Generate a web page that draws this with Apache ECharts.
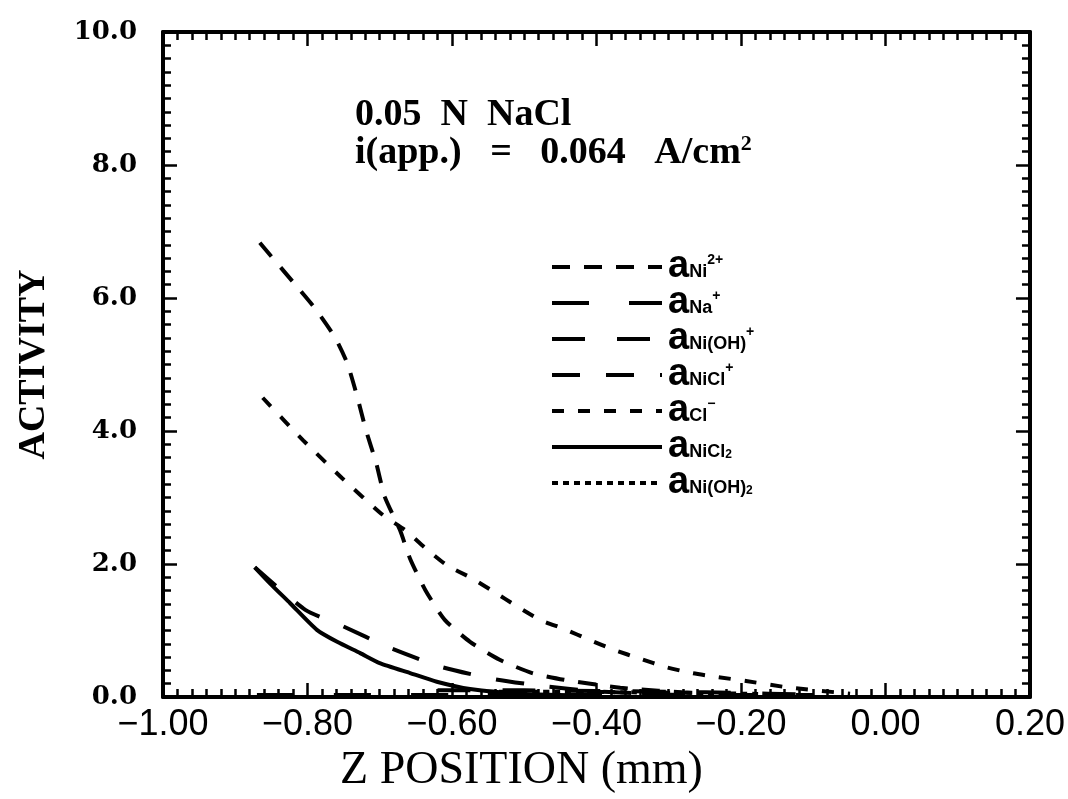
<!DOCTYPE html>
<html>
<head>
<meta charset="utf-8">
<script src="https://cdn.jsdelivr.net/npm/echarts/dist/echarts.min.js"></script>
<style>
  body { margin: 0; background: #fff; }
  #main { width: 1068px; height: 799px; }
</style>
</head>
<body>
<div id="main"></div>
<script>
// values (z in mm, activity)
var seriesNames = ['Ni2+', 'Na+', 'Ni(OH)+', 'NiCl+', 'Cl-', 'NiCl2', 'Ni(OH)2'];

var zNi2 = [-0.866, -0.820, -0.790, -0.762, -0.745, -0.731, -0.719, -0.705, -0.693, -0.672, -0.658, -0.637, -0.610, -0.575, -0.534, -0.489, -0.445, -0.367, -0.257];
var aNi2 = [6.83, 6.24, 5.85, 5.41, 5.02, 4.51, 4.01, 3.52, 3.01, 2.51, 2.08, 1.61, 1.16, 0.83, 0.56, 0.36, 0.26, 0.14, 0.05];

var zNa = [-0.87, -0.60, -0.30, -0.10];
var aNa = [0.03, 0.03, 0.03, 0.03];

var zNiOH = [-0.62, -0.50, -0.40, -0.30, -0.20, -0.12];
var aNiOH = [0.10, 0.10, 0.09, 0.08, 0.06, 0.04];

var zNiCl = [-0.873, -0.803, -0.752, -0.686, -0.614, -0.542, -0.478, -0.395, -0.257];
var aNiCl = [1.95, 1.31, 1.07, 0.74, 0.45, 0.27, 0.17, 0.08, 0.02];

var zCl = [-0.862, -0.806, -0.752, -0.696, -0.665, -0.637, -0.607, -0.575, -0.543, -0.511, -0.478, -0.444, -0.410, -0.376, -0.338, -0.304, -0.268, -0.232, -0.193, -0.132, -0.049];
var aCl = [4.50, 3.86, 3.29, 2.74, 2.51, 2.24, 1.98, 1.80, 1.59, 1.37, 1.16, 1.02, 0.86, 0.71, 0.57, 0.45, 0.36, 0.30, 0.24, 0.14, 0.05];

var zNiCl2 = [-0.873, -0.852, -0.824, -0.787, -0.759, -0.727, -0.700, -0.658, -0.621, -0.575, -0.506, -0.395];
var aNiCl2 = [1.95, 1.71, 1.41, 1.01, 0.83, 0.66, 0.51, 0.36, 0.23, 0.12, 0.05, 0.02];

var zNiOH2 = [-0.55, -0.45, -0.35, -0.25, -0.15];
var aNiOH2 = [0.08, 0.08, 0.07, 0.06, 0.04];

// legend label pieces: subscript / superscript / subscripted 2
var legendSub = ['Ni', 'Na', 'Ni(OH)', 'NiCl', 'Cl', 'NiCl', 'Ni(OH)'];
var legendSup = ['2+', '+', '+', '+', '\u2212', '', ''];
var legendSub2 = ['', '', '', '', '', '2', '2'];

function pairs(xs, ys) {
    var out = [];
    for (var i = 0; i < xs.length; i++) out.push([xs[i], ys[i]]);
    return out;
}

var myChart = echarts.init(document.getElementById('main'));

var dashes = [
    [18, 14],   // Ni2+
    [37, 40],   // Na+
    [33, 32],   // Ni(OH)+
    [28, 26],   // NiCl+
    [12, 14],   // Cl-
    'solid',    // NiCl2
    [6, 5]      // Ni(OH)2
];
var xs = [zNi2, zNa, zNiOH, zNiCl, zCl, zNiCl2, zNiOH2];
var ys = [aNi2, aNa, aNiOH, aNiCl, aCl, aNiCl2, aNiOH2];

var series = seriesNames.map(function (name, i) {
    return {
        name: name,
        type: 'line',
        symbol: 'none',
        smooth: 0.2,
        data: pairs(xs[i], ys[i]),
        lineStyle: { color: '#000', width: 4, type: dashes[i] },
        itemStyle: { color: '#000' },
        clip: true
    };
});

var tickStyle = { show: true, inside: true, length: 14, lineStyle: { color: '#000', width: 2.5 } };
var minorStyle = { show: true, splitNumber: 10, length: 8, lineStyle: { color: '#000', width: 2.5 } };
var lineAxis = { show: true, onZero: false, lineStyle: { color: '#000', width: 4 } };

var option = {
    animation: false,
    backgroundColor: '#fff',
    grid: { left: 163, right: 38, top: 32, bottom: 102 },
    xAxis: [{
        type: 'value',
        min: -1, max: 0.2, interval: 0.2,
        position: 'bottom',
        axisLine: lineAxis,
        axisTick: tickStyle,
        minorTick: minorStyle,
        splitLine: { show: false },
        axisLabel: {
            margin: 10,
            color: '#000',
            fontFamily: 'Liberation Sans',
            fontSize: 36,
            formatter: function (v) { return v.toFixed(2).replace('-', '\u2212'); }
        },
        name: 'Z POSITION (mm)',
        nameLocation: 'middle',
        nameGap: 50,
        nameTextStyle: { color: '#000', fontFamily: 'Liberation Serif', fontSize: 46, padding: [0, 150, 0, 0] }
    }, {
        type: 'value',
        min: -1, max: 0.2, interval: 0.2,
        position: 'top',
        axisLine: lineAxis,
        axisTick: tickStyle,
        minorTick: minorStyle,
        splitLine: { show: false },
        axisLabel: { show: false }
    }],
    yAxis: [{
        type: 'value',
        min: 0, max: 10, interval: 2,
        position: 'left',
        axisLine: lineAxis,
        axisTick: tickStyle,
        minorTick: minorStyle,
        splitLine: { show: false },
        axisLabel: {
            margin: 26,
            color: '#000',
            fontFamily: 'DejaVu Serif',
            fontWeight: 'bold',
            fontSize: 26,
            formatter: function (v) { return v.toFixed(1); }
        },
        name: 'ACTIVITY',
        nameLocation: 'middle',
        nameGap: 110,
        nameRotate: 90,
        nameTextStyle: { color: '#000', fontFamily: 'Liberation Serif', fontWeight: 'bold', fontSize: 38 }
    }, {
        type: 'value',
        min: 0, max: 10, interval: 2,
        position: 'right',
        axisLine: lineAxis,
        axisTick: tickStyle,
        minorTick: minorStyle,
        splitLine: { show: false },
        axisLabel: { show: false }
    }],
    legend: {
        orient: 'vertical',
        left: 545,
        top: 243,
        itemWidth: 110,
        itemHeight: 20,
        itemGap: -2,
        data: seriesNames,
        itemStyle: { color: 'rgba(0,0,0,0)', borderWidth: 0 },
        lineStyle: { width: 4 },
        formatter: function (name) {
            var i = seriesNames.indexOf(name);
            var s = '{a|a}{sub|' + legendSub[i] + '}';
            if (legendSub2[i]) s += '{sub2|' + legendSub2[i] + '}';
            if (legendSup[i]) s += '{sup|' + legendSup[i] + '}';
            return s;
        },
        textStyle: {
            color: '#000',
            rich: {
                a: { fontFamily: 'Liberation Sans', fontWeight: 'bold', fontSize: 38, lineHeight: 28, padding: [0, 0, 0, 1] },
                sub: { fontFamily: 'Liberation Sans', fontWeight: 'bold', fontSize: 18, lineHeight: 14, verticalAlign: 'bottom' },
                sub2: { fontFamily: 'Liberation Sans', fontWeight: 'bold', fontSize: 12, lineHeight: 8, verticalAlign: 'bottom' },
                sup: { fontFamily: 'Liberation Sans', fontWeight: 'bold', fontSize: 14, lineHeight: 26, verticalAlign: 'top' }
            }
        }
    },
    graphic: [{
        type: 'text',
        left: 355,
        top: 96,
        style: { text: '0.05  N  NaCl', fill: '#000', font: 'bold 38px "Liberation Serif"' }
    }, {
        type: 'text',
        left: 355,
        top: 133,
        style: {
            text: 'i(app.)   =   0.064   A/cm{s|2}',
            fill: '#000',
            font: 'bold 38px "Liberation Serif"',
            lineHeight: 40,
            rich: {
                s: { fontFamily: 'Liberation Serif', fontWeight: 'bold', fontSize: 22, lineHeight: 40, verticalAlign: 'top', fill: '#000' }
            }
        }
    }],
    series: series
};

window.onresize = myChart.resize;
myChart.setOption(option);
</script>
</body>
</html>
